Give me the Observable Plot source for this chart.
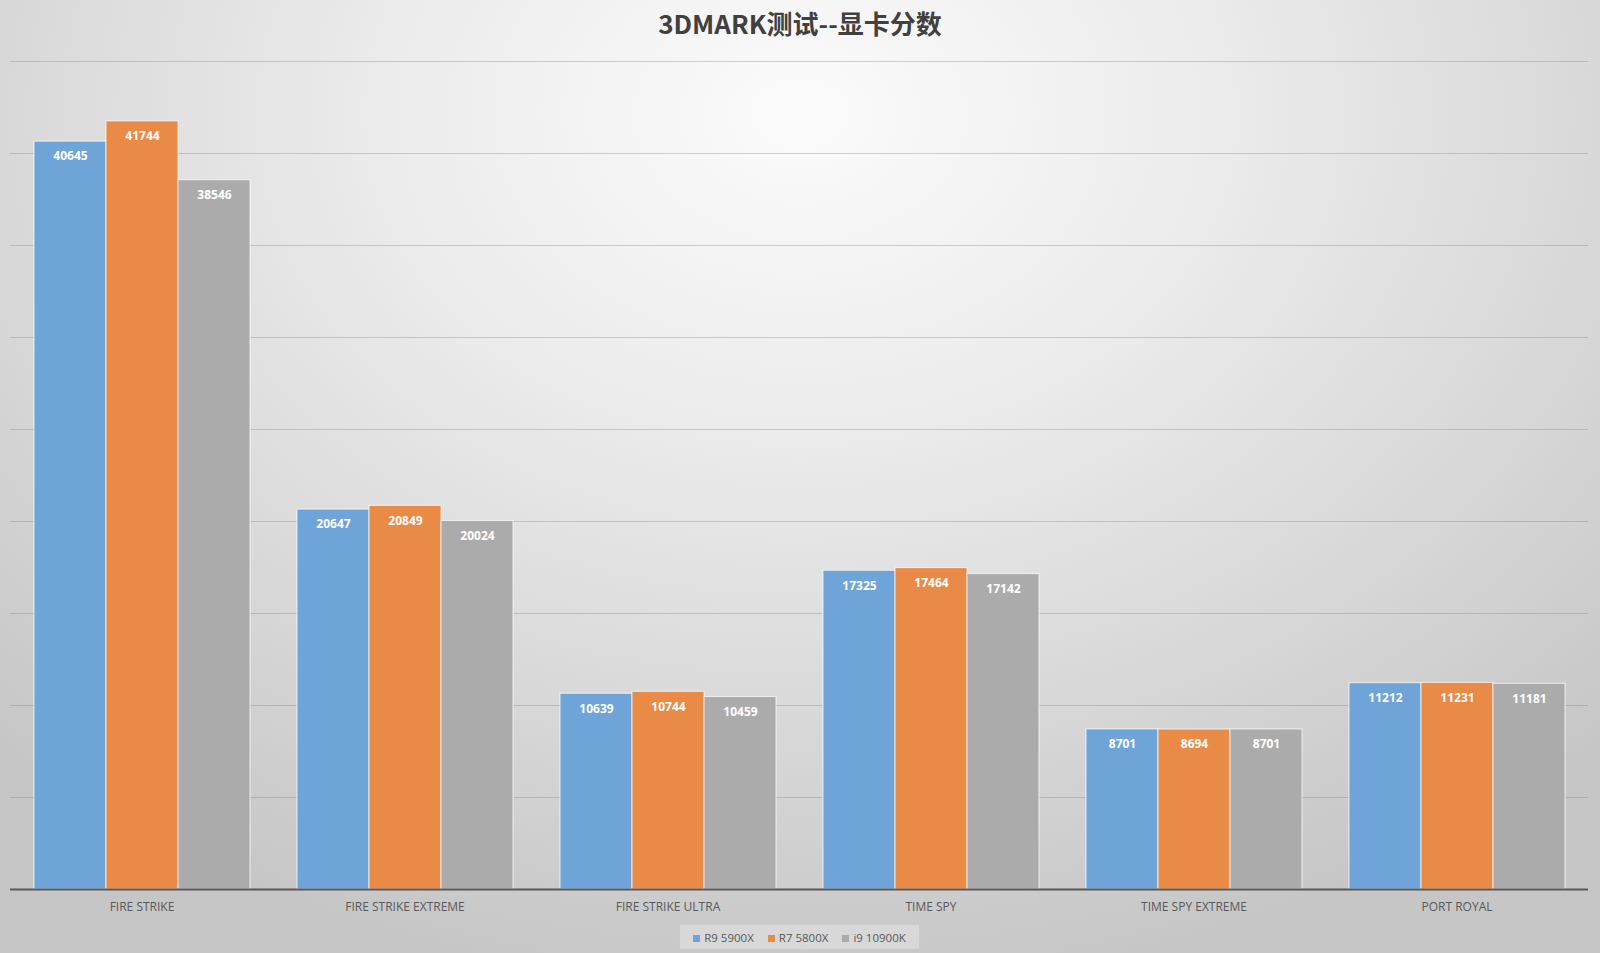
<!DOCTYPE html>
<html>
<head>
<meta charset="utf-8">
<script src="https://cdn.jsdelivr.net/npm/d3@7"></script>
<script src="https://cdn.jsdelivr.net/npm/@observablehq/plot@0.6"></script>
<style>
  html, body { margin: 0; padding: 0; }
  #wrap {
    width: 1600px; height: 953px; position: relative; overflow: hidden;
    background: radial-gradient(ellipse 72% 92% at 50% 12%, #fbfbfb 0%, #ececec 35%, #d8d8d8 70%, #c6c6c6 100%);
    font-family: "Open Sans", "Noto Sans", sans-serif;
  }
  #title {
    height: 50px; line-height: 46px; text-align: center;
    font-family: "Noto Sans CJK SC", "Open Sans", sans-serif;
    font-weight: bold; font-size: 26px; color: #404040;
  }
  #chart svg { display: block; }
  #legend {
    position: absolute; left: 680px; top: 925px; width: 239px; height: 24px;
    background: rgba(255,255,255,0.28);
    display: flex; align-items: center; justify-content: center; gap: 14px;
    font-size: 11.5px; color: #595959;
  }
  #legend span.sw { display: inline-block; width: 7px; height: 7px; margin-right: 4px; }
</style>
</head>
<body>
<div id="wrap">
  <div id="title">3DMARK测试--显卡分数</div>
  <div id="chart"></div>
  <div id="legend"></div>
</div>
<script>
const categories = ["FIRE STRIKE", "FIRE STRIKE EXTREME", "FIRE STRIKE ULTRA", "TIME SPY", "TIME SPY EXTREME", "PORT ROYAL"];
const series = ["R9 5900X", "R7 5800X", "i9 10900K"];
const r9_5900x = [40645, 20647, 10639, 17325, 8701, 11212];
const r7_5800x = [41744, 20849, 10744, 17464, 8694, 11231];
const i9_10900k = [38546, 20024, 10459, 17142, 8701, 11181];
const gridTicks = [5000, 10000, 15000, 20000, 25000, 30000, 35000, 40000, 45000];
const colors = ["#6ea4d7", "#e98a47", "#ababab"];

const seriesValues = [r9_5900x, r7_5800x, i9_10900k];
const rows = [];
categories.forEach((c, i) => {
  series.forEach((s, j) => rows.push({category: c, series: s, value: seriesValues[j][i]}));
});

const chart = Plot.plot({
  width: 1600,
  height: 875,
  marginLeft: 10,
  marginRight: 12,
  marginTop: 11,
  marginBottom: 36,
  style: {background: "transparent", fontFamily: "'Open Sans', sans-serif", fontSize: "12px", color: "#595959"},
  fx: {domain: categories, paddingInner: 0.175, paddingOuter: 0.086, label: null, axis: "bottom", tickSize: 0, tickPadding: 13},
  x: {domain: series, padding: 0, axis: null},
  y: {domain: [0, 45000], axis: null},
  color: {domain: series, range: colors},
  marks: [
    Plot.ruleY(gridTicks, {stroke: "#7a7a7a", strokeOpacity: 0.32, insetLeft: -23.02, insetRight: -23.02}),
    Plot.barY(rows, {fx: "category", x: "series", y: "value", fill: "series", stroke: "white", strokeWidth: 1, strokeOpacity: 0.75}),
    Plot.text(rows, {fx: "category", x: "series", y: "value", text: d => String(d.value), dy: 15, fill: "white", fontWeight: "bold", fontSize: 12}),
    Plot.ruleY([0], {stroke: "#595959", strokeWidth: 2, insetLeft: -23.02, insetRight: -23.02})
  ]
});
document.getElementById("chart").appendChild(chart);

const legend = document.getElementById("legend");
series.forEach((s, i) => {
  const item = document.createElement("div");
  item.innerHTML = `<span class="sw" style="background:${colors[i]}"></span>${s}`;
  legend.appendChild(item);
});
</script>
</body>
</html>
